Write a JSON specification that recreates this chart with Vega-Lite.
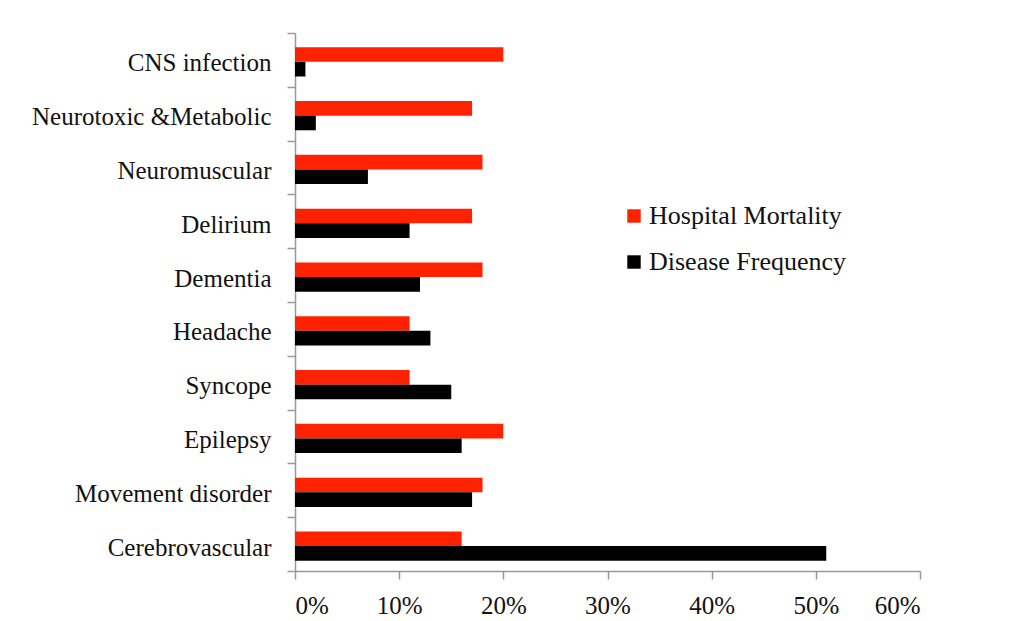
{
  "$schema": "https://vega.github.io/schema/vega-lite/v6.json",
  "width": 625,
  "height": 538,
  "autosize": {"type": "none"},
  "padding": {"left": 295, "top": 33, "right": 104, "bottom": 50},
  "background": "white",
  "config": {
    "view": {"stroke": null},
    "font": "Liberation Serif",
    "axis": {"labelFont": "Liberation Serif", "labelColor": "#111", "domainColor": "#999", "tickColor": "#999", "domainWidth": 1.5, "tickWidth": 1.5}
  },
  "data": {
    "values": [
      {"category": "CNS infection", "series": "Hospital Mortality", "value": 0.20},
      {"category": "CNS infection", "series": "Disease Frequency", "value": 0.01},
      {"category": "Neurotoxic &Metabolic", "series": "Hospital Mortality", "value": 0.17},
      {"category": "Neurotoxic &Metabolic", "series": "Disease Frequency", "value": 0.02},
      {"category": "Neuromuscular", "series": "Hospital Mortality", "value": 0.18},
      {"category": "Neuromuscular", "series": "Disease Frequency", "value": 0.07},
      {"category": "Delirium", "series": "Hospital Mortality", "value": 0.17},
      {"category": "Delirium", "series": "Disease Frequency", "value": 0.11},
      {"category": "Dementia", "series": "Hospital Mortality", "value": 0.18},
      {"category": "Dementia", "series": "Disease Frequency", "value": 0.12},
      {"category": "Headache", "series": "Hospital Mortality", "value": 0.11},
      {"category": "Headache", "series": "Disease Frequency", "value": 0.13},
      {"category": "Syncope", "series": "Hospital Mortality", "value": 0.11},
      {"category": "Syncope", "series": "Disease Frequency", "value": 0.15},
      {"category": "Epilepsy", "series": "Hospital Mortality", "value": 0.20},
      {"category": "Epilepsy", "series": "Disease Frequency", "value": 0.16},
      {"category": "Movement disorder", "series": "Hospital Mortality", "value": 0.18},
      {"category": "Movement disorder", "series": "Disease Frequency", "value": 0.17},
      {"category": "Cerebrovascular", "series": "Hospital Mortality", "value": 0.16},
      {"category": "Cerebrovascular", "series": "Disease Frequency", "value": 0.51}
    ]
  },
  "mark": {"type": "bar"},
  "encoding": {
    "y": {
      "field": "category",
      "type": "nominal",
      "sort": null,
      "scale": {"paddingInner": 0, "paddingOuter": 0},
      "axis": {"title": null, "labelFontSize": 25, "labelPadding": 16, "labelOffset": 3, "tickSize": 8, "tickBand": "extent", "labelLimit": 300}
    },
    "yOffset": {
      "field": "series",
      "type": "nominal",
      "sort": ["Hospital Mortality", "Disease Frequency"],
      "scale": {"paddingInner": 0, "paddingOuter": 0.84, "align": 0.58}
    },
    "x": {
      "field": "value",
      "type": "quantitative",
      "scale": {"domain": [0, 0.6], "nice": false},
      "axis": {"title": null, "format": ".0%", "values": [0, 0.1, 0.2, 0.3, 0.4, 0.5, 0.6], "grid": false, "labelFontSize": 25, "tickSize": 8, "labelPadding": 14}
    },
    "color": {
      "field": "series",
      "type": "nominal",
      "sort": ["Hospital Mortality", "Disease Frequency"],
      "scale": {"domain": ["Hospital Mortality", "Disease Frequency"], "range": ["#ff2200", "#000000"]},
      "legend": {"title": null, "orient": "none", "legendX": 326, "legendY": 170, "symbolType": "square", "symbolSize": 180, "symbolStrokeWidth": 0, "labelFontSize": 26, "labelFont": "Liberation Serif", "labelColor": "#111", "labelLimit": 400, "rowPadding": 20, "labelOffset": 2}
    }
  }
}
